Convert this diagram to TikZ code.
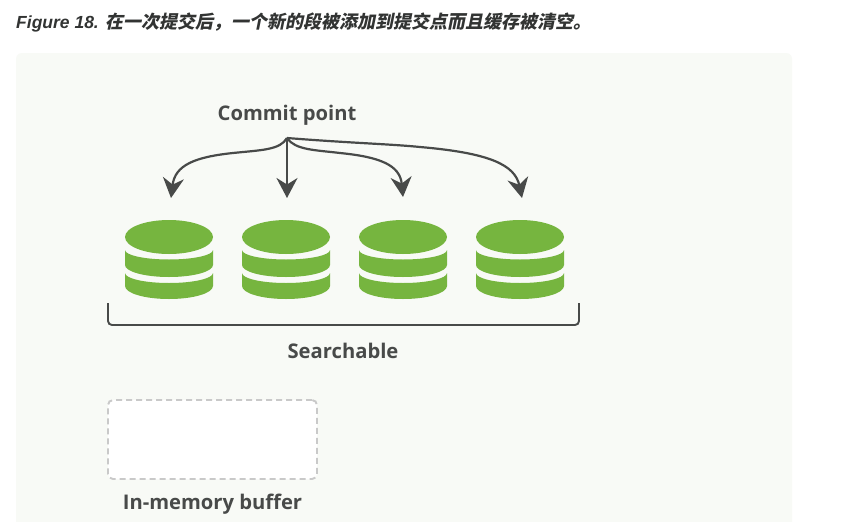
\documentclass[tikz,border=0pt]{standalone}
\usepackage{fontspec}
\setmainfont{Open Sans}
\newfontfamily\cjk[FakeSlant=0.2]{Noto Sans CJK SC}
\newfontfamily\titlefont{Liberation Sans}
\usetikzlibrary{arrows.meta}
\definecolor{panelbg}{HTML}{F8FAF6}
\definecolor{darkline}{HTML}{484A49}
\definecolor{seggreen}{HTML}{76B53F}
\definecolor{dashgrey}{HTML}{C9C9C9}
\tikzset{
  lbl/.style={text=darkline, font=\fontsize{20.2}{24}\selectfont\bfseries, inner sep=0pt},
  arc/.style={draw=darkline, line width=2.2pt, -{Stealth[length=20pt,width=21pt,inset=6.5pt]}},
}
\begin{document}
\begin{tikzpicture}[x=1pt, y=-1pt, >=stealth]
\useasboundingbox (0,0) rectangle (842,522);
\fill [white] (0,0) rectangle (842,522);
\fill [panelbg, rounded corners=6pt] (16,540)--(16,53)--(792,53)--(792,540);
\fill [white] (0,522) rectangle (842,545);

\node (title) [anchor=base west, inner sep=0pt, text=darkline!70!black] at (16,28)
  {\fontsize{17.5}{20}\selectfont\titlefont\bfseries\itshape Figure 18.\hspace{7pt}\fontsize{18}{20}\selectfont\cjk\bfseries 在一次提交后，一个新的段被添加到提交点而且缓存被清空。};

\node (commit) [lbl] at (287,115) {Commit point};
\coordinate (root) at (287,138);

\foreach \x/\n in {169/a,286/b,403/c,520/d}
{
  \fill [seggreen] (\x-44,273)--(\x-44,286) arc [start angle=180, end angle=360, x radius=44, y radius=-13] --(\x+44,273) arc [start angle=0, end angle=-180, x radius=44, y radius=-10] -- cycle;
  \fill [seggreen] (\x-44,250)--(\x-44,265) arc [start angle=180, end angle=360, x radius=44, y radius=-12] --(\x+44,250) arc [start angle=0, end angle=-180, x radius=44, y radius=-9.5] -- cycle;
  \fill [seggreen] (\x,237) ellipse [x radius=44, y radius=17];
  \coordinate (seg\n) at (\x,197);
}
\coordinate (sega) at (171,198);
\coordinate (segd) at (522,198);

\draw [arc] (root) .. controls (280,150) and (262,150) .. (233,153) .. controls (195,157) and (175,165) .. (sega);
\draw [arc] (root) -- (287,198);
\draw [arc] (root) .. controls (295,150) and (315,150) .. (340,153) .. controls (380,157) and (400,165) .. (segc);
\draw [arc] (root) .. controls (350,143) and (390,144) .. (420,147) .. controls (490,153) and (515,165) .. (segd);

\draw [darkline, line width=1.9pt, rounded corners=4pt] (108,303)--(108,325)--(579,325)--(579,303);
\node (search) [lbl] at (343,351) {Searchable};

\node (buffer) [draw=dashgrey, fill=white, line width=1.9pt, rounded corners=5pt, dash pattern=on 6pt off 4pt, minimum width=209pt, minimum height=79pt, inner sep=0pt] at (212.5,439.5) {};
\node (memlbl) [lbl] at (212.5,504) {In-memory buffer};
\end{tikzpicture}
\end{document}
